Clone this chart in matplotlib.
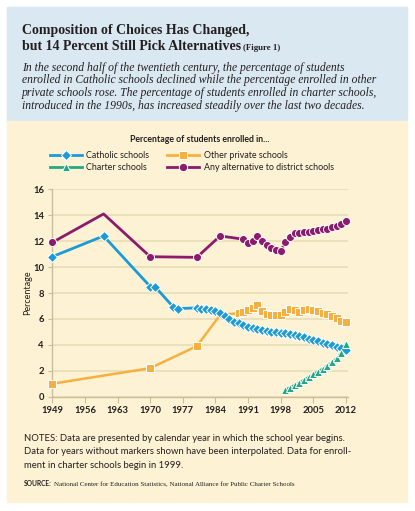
import matplotlib.pyplot as plt
from matplotlib.patches import Rectangle
from matplotlib.lines import Line2D

# -------------------------------
# Data (share of students, %)
# -------------------------------
catholic_years = [1949, 1960, 1970, 1971, 1975, 1976] + list(range(1980, 2013))
catholic_pct = [10.8, 12.4, 8.5, 8.5, 6.9, 6.8,
                6.85, 6.8, 6.78, 6.72, 6.62, 6.45, 6.2, 6.0, 5.8, 5.65,
                5.5, 5.38, 5.28, 5.2, 5.12, 5.06, 5.01, 4.97, 4.93, 4.88,
                4.83, 4.76, 4.68, 4.58, 4.48, 4.38, 4.28, 4.18, 4.07, 3.96,
                3.85, 3.75, 3.62]

other_years = [1949, 1970, 1980, 1985] + list(range(1989, 2013))
other_pct = [1.0, 2.2, 3.9, 6.3,
             6.45, 6.55, 6.7, 6.85, 7.05, 6.6, 6.4, 6.3, 6.3, 6.3,
             6.55, 6.8, 6.7, 6.55, 6.65, 6.75, 6.7, 6.62, 6.48, 6.38,
             6.23, 6.05, 5.86, 5.74]
other_unmarked = [1985]

charter_years = list(range(1999, 2013))
charter_pct = [0.55, 0.7, 0.9, 1.08, 1.29, 1.5, 1.73, 1.93, 2.15, 2.4,
               2.65, 2.95, 3.4, 4.1]

any_years = [1949, 1960, 1970, 1980, 1985] + list(range(1990, 2013))
any_pct = [11.9, 14.1, 10.8, 10.75, 12.4,
           12.15, 11.85, 12.05, 12.4, 12.05, 11.7, 11.45, 11.35, 11.25, 11.9,
           12.35, 12.65, 12.65, 12.7, 12.72, 12.78, 12.83, 12.9, 12.97, 13.08,
           13.2, 13.32, 13.55]
any_unmarked = [1960]

x_ticks = [1949, 1956, 1963, 1970, 1977, 1984, 1991, 1998, 2005, 2012]
y_ticks = [0, 2, 4, 6, 8, 10, 12, 14, 16]

labels = ['Catholic schools', 'Charter schools',
          'Other private schools', 'Any alternative to district schools']

title_lines = ['Composition of Choices Has Changed,',
               'but 14 Percent Still Pick Alternatives']
intro_lines = [
    'In the second half of the twentieth century, the percentage of students',
    'enrolled in Catholic schools declined while the percentage enrolled in other',
    'private schools rose. The percentage of students enrolled in charter schools,',
    'introduced in the 1990s, has increased steadily over the last two decades.',
]
note_lines = [
    'NOTES: Data are presented by calendar year in which the school year begins.',
    'Data for years without markers shown have been interpolated. Data for enroll-',
    'ment in charter schools begin in 1999.',
]
source_text = 'National Center for Education Statistics, National Alliance for Public Charter Schools'

# -------------------------------
# Style
# -------------------------------
BLUE = '#1b9ad9'
ORANGE = '#f5b041'
GREEN = '#23a883'
PURPLE = '#8b1b6c'
GRID = '#e8ddb4'
AXIS = '#c9bd9a'
INK = '#231f20'
SANS = 'Lato'
SERIF = 'Liberation Serif'

W, H = 415, 511


def fx(px):
    return px / W


def fy(py):
    return 1 - py / H


fig = plt.figure(figsize=(W / 100, H / 100), dpi=100)
fig.patch.set_facecolor('white')
fig.add_artist(Rectangle((fx(7), fy(121)), 400 / W, 114 / H,
                         transform=fig.transFigure, color='#dae8f1', zorder=0))
fig.add_artist(Rectangle((fx(7), fy(502)), 400 / W, 381 / H,
                         transform=fig.transFigure, color='#fdf3d4', zorder=0))

# header
title_y = [34, 50]
for line, y in zip(title_lines, title_y):
    t = fig.text(fx(22), fy(y), line, family=SERIF, weight='bold',
                 size=10.0, color=INK, va='baseline')
fig.canvas.draw()
bb = t.get_window_extent()
fig.text((bb.x1 + 2) / W, fy(50), '(Figure 1)', family=SERIF, weight='bold',
         size=6.3, color=INK, va='baseline')

for i, line in enumerate(intro_lines):
    fig.text(fx(22), fy(71 + 12.5 * i), line, family=SERIF, style='italic',
             size=8.4, color=INK, va='baseline')

# chart
ax = fig.add_axes([fx(52.3), fy(396.7), 296 / W, 207.4 / H])
ax.set_facecolor('none')

mk = dict(mec='white', mew=0.7, clip_on=False)
ax.plot(other_years, other_pct, color=ORANGE, lw=1.8, marker='s', ms=5.2,
        markevery=[i for i, yr in enumerate(other_years) if yr not in other_unmarked],
        zorder=3, **mk)
ax.plot(catholic_years, catholic_pct, color=BLUE, lw=2.0, marker='D', ms=5.2,
        zorder=4, **mk)
ax.plot(charter_years, charter_pct, color=GREEN, lw=1.8, marker='^', ms=5.2,
        zorder=5, **mk)
ax.plot(any_years, any_pct, color=PURPLE, lw=2.0, marker='o', ms=5.8,
        markevery=[i for i, yr in enumerate(any_years) if yr not in any_unmarked],
        zorder=6, **mk)

ax.set_xlim(1949, 2012.5)
ax.set_ylim(0, 16)
ax.set_xticks(x_ticks)
ax.set_yticks(y_ticks)
ax.grid(axis='y', color=GRID, lw=1.2)
ax.set_axisbelow(True)
for s in ['top', 'right']:
    ax.spines[s].set_visible(False)
for s in ['left', 'bottom']:
    ax.spines[s].set_color(AXIS)
    ax.spines[s].set_linewidth(1.0)
ax.tick_params(axis='x', length=4, color=AXIS, pad=3, labelsize=6.8,
               labelcolor=INK)
ax.tick_params(axis='y', length=3, color=AXIS, pad=3, labelsize=6.8,
               labelcolor=INK)
for lab in ax.get_xticklabels() + ax.get_yticklabels():
    lab.set_family(SANS)
    lab.set_weight('bold')

fig.text(fx(28), fy(293), 'Percentage', rotation=90, ha='center', va='center',
         family=SANS, size=6.5, color=INK)

fig.text(fx(200), fy(142), 'Percentage of students enrolled in...', ha='center',
         va='baseline', family=SANS, weight='bold', size=6.3, color=INK)

handles = [
    Line2D([], [], color=BLUE, lw=2, marker='D', ms=5.5, mec='white', mew=0.7),
    Line2D([], [], color=GREEN, lw=2, marker='^', ms=5.5, mec='white', mew=0.7),
    Line2D([], [], color=ORANGE, lw=2, marker='s', ms=5.5, mec='white', mew=0.7),
    Line2D([], [], color=PURPLE, lw=2, marker='o', ms=6, mec='white', mew=0.7),
]
leg = fig.legend(handles, labels, ncol=2, loc='upper left',
                 bbox_to_anchor=(fx(50), fy(151)), frameon=False,
                 prop={'family': SANS, 'size': 6.4}, handlelength=3.6,
                 handletextpad=0.5, columnspacing=2.0, labelspacing=0.3,
                 borderpad=0, borderaxespad=0)
for txt in leg.get_texts():
    txt.set_color(INK)

# notes
for i, line in enumerate(note_lines):
    fig.text(fx(24), fy(441 + 13.3 * i), line, family=SANS, size=6.85,
             color=INK, va='baseline')
s = fig.text(fx(24), fy(486), 'SOURCE:', family=SANS, weight='bold', size=4.8,
             color=INK, va='baseline')
fig.canvas.draw()
bb = s.get_window_extent()
fig.text((bb.x1 + 2) / W, fy(486), source_text, family=SERIF, size=5.0,
         color=INK, va='baseline')

fig.savefig('out.png', dpi=100)
